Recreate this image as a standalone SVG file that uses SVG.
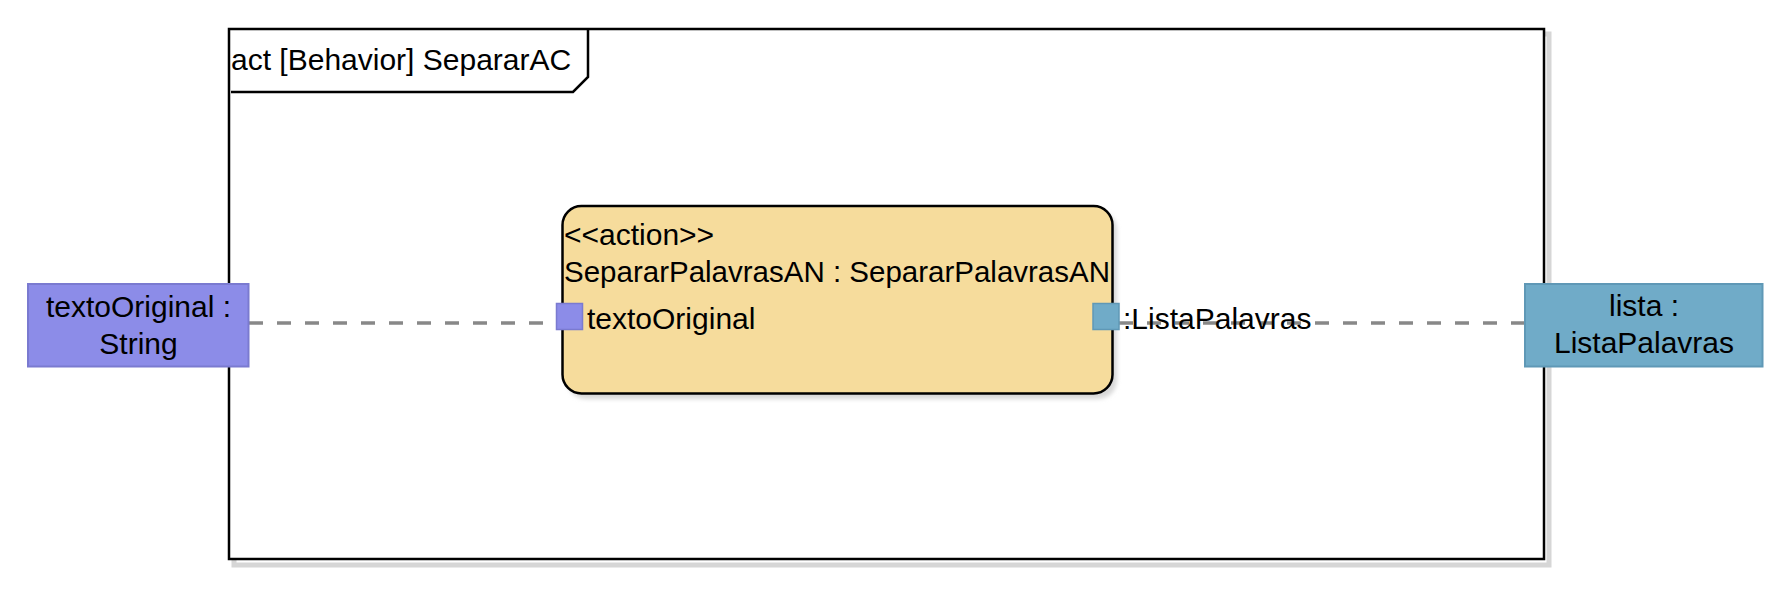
<svg xmlns="http://www.w3.org/2000/svg" width="1791" height="595" viewBox="0 0 1791 595">
<defs>
<filter id="sh" x="-5%" y="-5%" width="115%" height="115%"><feGaussianBlur stdDeviation="2"/></filter>
</defs>
<style>
text{font-family:"Liberation Sans",Arial,sans-serif;font-size:30px;fill:#000}
.mid{text-anchor:middle}
.conn{stroke:#888;stroke-width:3.5;fill:none;stroke-dasharray:14 14}
.pinIn{fill:#8c8ce8;stroke:#7a7ad0;stroke-width:1.5}
.pinOut{fill:#70abc8;stroke:#5f98b6;stroke-width:1.5}
.shadow{fill:#d8d8d8;filter:url(#sh)}
</style>
<g id="frame">
<rect x="234" y="34" width="1315" height="531" fill="none" stroke="#d6d6d6" stroke-width="5"/>
<rect x="229" y="29" width="1315" height="530" fill="#fff" stroke="#000" stroke-width="2.5"/>
<path d="M231 92 H573 L588 77 V29" fill="none" stroke="#000" stroke-width="2.5"/>
<text x="231" y="70">act [Behavior] SepararAC</text>
</g>
<g id="connectors">
<line class="conn" x1="249" y1="323" x2="556" y2="323"/>
<line class="conn" x1="1119" y1="323" x2="1525" y2="323"/>
</g>
<g id="action">
<rect class="shadow" x="567" y="211" width="550" height="188" rx="19"/>
<rect x="562.5" y="206" width="550" height="187.5" rx="19" fill="#f6dc9c" stroke="#000" stroke-width="2.5"/>
<text x="564" y="245">&lt;&lt;action&gt;&gt;</text>
<text x="564" y="282" textLength="546" lengthAdjust="spacingAndGlyphs">SepararPalavrasAN : SepararPalavrasAN</text>
</g>
<g id="pin-in">
<rect class="pinIn" x="556.5" y="303.5" width="26" height="26"/>
<text x="587" y="329">textoOriginal</text>
</g>
<g id="pin-out">
<rect class="pinOut" x="1093" y="303.5" width="26" height="26"/>
<text x="1123" y="329">:ListaPalavras</text>
</g>
<g id="input-param">
<rect x="28" y="284" width="220.5" height="82.5" fill="#8c8ce8" stroke="#7a7ad0" stroke-width="2"/>
<text class="mid" x="138.5" y="317">textoOriginal :</text>
<text class="mid" x="138.5" y="354">String</text>
</g>
<g id="output-param">
<rect x="1525" y="284" width="237.5" height="82.5" fill="#70abc8" stroke="#5f98b6" stroke-width="2"/>
<text class="mid" x="1644" y="316">lista :</text>
<text class="mid" x="1644" y="353">ListaPalavras</text>
</g>
</svg>
